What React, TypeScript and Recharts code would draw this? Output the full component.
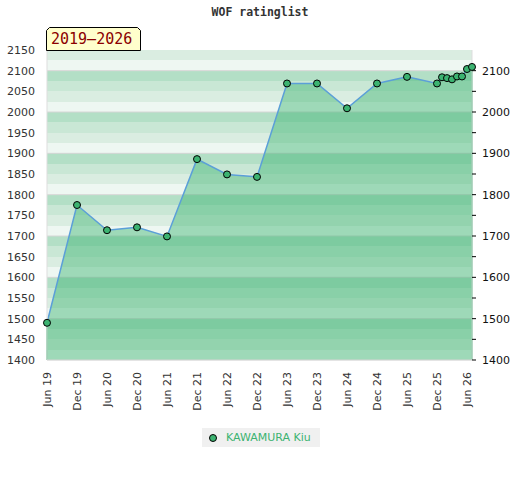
import { ComposedChart, Area, Line, XAxis, YAxis, CartesianGrid, ReferenceLine, Legend } from 'recharts'

// months counted from Jun 2019
const months = [0, 6, 12, 18, 24, 30, 36, 42, 48, 54, 60, 66, 72, 78, 79, 80, 81, 82, 83, 84, 85]
const ratings = [1490, 1775, 1714, 1721, 1699, 1886, 1849, 1843, 2069, 2069, 2009, 2069, 2085, 2069, 2084, 2082, 2079, 2086, 2086, 2104, 2109]

const tickMonths = [0, 6, 12, 18, 24, 30, 36, 42, 48, 54, 60, 66, 72, 78, 84]
const tickLabels = ['Jun 19', 'Dec 19', 'Jun 20', 'Dec 20', 'Jun 21', 'Dec 21', 'Jun 22', 'Dec 22', 'Jun 23', 'Dec 23', 'Jun 24', 'Dec 24', 'Jun 25', 'Dec 25', 'Jun 26']

const leftTicks = [1400, 1450, 1500, 1550, 1600, 1650, 1700, 1750, 1800, 1850, 1900, 1950, 2000, 2050, 2100, 2150]
const rightTicks = [1400, 1450, 1500, 1550, 1600, 1650, 1700, 1750, 1800, 1850, 1900, 1950, 2000, 2050, 2100]

const playerName = 'KAWAMURA Kiu'
const title = 'WOF ratinglist'
const period = '2019–2026'

const yMin = 1400
const yMax = 2150

const data = months.map((m, i) => ({ m, rating: ratings[i] }))

// stripes every 25 points
const bandLines: number[] = []
for (let v = yMax; v >= yMin; v -= 25) bandLines.push(v)
const gridLines = leftTicks.filter((v) => v % 100 === 0)

const green = '#3cb371'
const font = '"DejaVu Sans", Verdana, sans-serif'

const XTick = ({ x, y, payload }: any) => (
  <text
    x={x}
    y={y}
    transform={`rotate(-90 ${x} ${y})`}
    textAnchor="end"
    dominantBaseline="central"
    fontSize={11}
    fontFamily={font}
    fill="#333"
  >
    {tickLabels[tickMonths.indexOf(payload.value)]}
  </text>
)

const LegendBox = () => (
  <div
    style={{
      background: '#f0f0f0',
      height: 19,
      display: 'flex',
      alignItems: 'center',
      fontFamily: font,
      fontSize: 11,
      color: green,
    }}
  >
    <span
      style={{
        display: 'inline-block',
        width: 6,
        height: 6,
        borderRadius: 4,
        background: green,
        border: '1px solid #000',
        marginLeft: 7,
        marginRight: 9,
      }}
    />
    {playerName}
  </div>
)

export default function App() {
  const first = data[0]
  const last = data[data.length - 1]
  return (
    <div style={{ position: 'absolute', left: 0, top: 0, width: 520, height: 480, background: '#fff' }}>
      <div
        style={{
          position: 'absolute',
          left: 0,
          top: 5,
          width: 520,
          textAlign: 'center',
          fontFamily: '"DejaVu Sans Mono", monospace',
          fontWeight: 'bold',
          fontSize: 11.5,
          color: '#333',
        }}
      >
        {title}
      </div>
      <ComposedChart width={520} height={480} data={data} margin={{ top: 50, right: 0, bottom: 60, left: 0 }}>
        <CartesianGrid
          vertical={false}
          horizontalValues={bandLines}
          stroke="none"
          horizontalFill={['#daede1', '#eef7f2', '#b3dfc6', '#c9e7d5']}
          fillOpacity={1}
        />
        <CartesianGrid vertical={false} horizontalValues={gridLines} stroke="#d6d6d6" />
        <XAxis
          dataKey="m"
          type="number"
          domain={[months[0], months[months.length - 1]]}
          ticks={tickMonths}
          interval={0}
          height={60}
          tick={<XTick />}
          tickLine={false}
          tickSize={6}
          tickMargin={6}
          stroke="#ddd"
        />
        <YAxis
          yAxisId={0}
          width={47}
          domain={[yMin, yMax]}
          ticks={leftTicks}
          interval={0}
          tickLine={false}
          tickMargin={6}
          stroke="#ddd"
          tick={{ fill: '#333', fontSize: 11, fontFamily: font }}
        />
        <YAxis
          yAxisId="right"
          orientation="right"
          width={48}
          domain={[yMin, yMax]}
          ticks={rightTicks}
          interval={0}
          tickSize={4}
          tickMargin={6}
          stroke="#ddd"
          tickLine={{ stroke: '#000' }}
          tickFormatter={(v: number) => (v % 100 === 0 ? String(v) : '')}
          tick={{ fill: '#111', fontSize: 11, fontFamily: font }}
        />
        <Area
          type="linear"
          dataKey="rating"
          name={playerName}
          baseValue={yMin}
          stroke="#5b9fd8"
          strokeWidth={1.5}
          fill={green}
          fillOpacity={0.45}
          dot={{ r: 3.5, fill: green, stroke: '#000', strokeWidth: 1, fillOpacity: 1 }}
          activeDot={false}
          isAnimationActive={false}
        />
        {/* invisible series so the right axis gets drawn */}
        <Line
          yAxisId="right"
          dataKey="rating"
          stroke="none"
          dot={false}
          activeDot={false}
          legendType="none"
          isAnimationActive={false}
        />
        <ReferenceLine
          segment={[{ x: first.m, y: yMin }, { x: first.m, y: first.rating }]}
          stroke={green}
          strokeWidth={1.2}
        />
        <ReferenceLine
          segment={[{ x: last.m, y: yMin }, { x: last.m, y: last.rating }]}
          stroke={green}
          strokeWidth={1.2}
        />
        <Legend
          layout="vertical"
          align="center"
          verticalAlign="middle"
          content={<LegendBox />}
          wrapperStyle={{ left: 202, top: 428, width: 118 }}
        />
      </ComposedChart>
      <svg style={{ position: 'absolute', left: 0, top: 0 }} width={160} height={60}>
        <polygon
          points="46.5,50.5 46.5,30.5 49.5,27.5 137.5,27.5 140.5,30.5 140.5,50.5"
          fill="#ffffcc"
          stroke="#000"
          strokeWidth={1}
        />
        <text x={51} y={44} fontFamily='"DejaVu Sans Mono", monospace' fontSize={15} fill="#8b0000">
          {period}
        </text>
      </svg>
    </div>
  )
}
